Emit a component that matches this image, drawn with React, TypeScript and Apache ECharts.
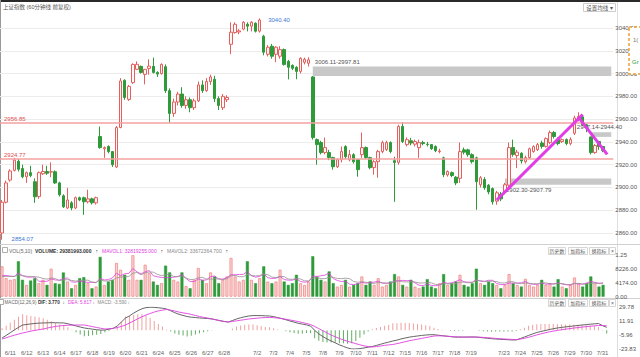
import { useEffect, useRef } from "react";
import * as echarts from "echarts";

const FONT = "'Liberation Sans', 'Noto Sans CJK SC', sans-serif";

const dayNames = ["6/11","6/12","6/13","6/14","6/17","6/18","6/19","6/20","6/21","6/24","6/25","6/26","6/27","6/28","7/1","7/2","7/3","7/4","7/5","7/8","7/9","7/10","7/11","7/12","7/15","7/16","7/17","7/18","7/19","7/22","7/23","7/24","7/25","7/26","7/29","7/30","7/31"];
const hiddenDayLabels = ["7/1", "7/22"];
const hourNames = ["10:30", "11:30", "14:00", "15:00"];

// [open, close, low, high]
const ohlc: number[][] = [
  [2860,2887,2854.07,2889],[2887,2904,2886,2906],[2906.5,2914.5,2905,2916],[2915,2924,2914,2926],
  [2923,2916,2914,2925],[2916.6,2909.4,2908,2920],[2909.4,2913,2904,2914],[2913,2910.5,2909,2919],
  [2905,2891.8,2886.5,2908],[2892,2913,2890,2914],[2912,2914,2911,2920],[2914,2912.5,2911,2919],
  [2913.5,2913.8,2909,2922],[2913.8,2904,2903,2915],[2904,2893.6,2892,2905],[2892.7,2883,2882,2894],
  [2882,2889,2881,2899.7],[2886.5,2882,2880,2888],[2882,2891,2881,2892],[2891,2889,2888,2892],
  [2891,2887.4,2876,2892],[2887.4,2890,2886,2898],[2890,2886.5,2885,2891],[2886.5,2891,2885,2892],
  [2944.7,2935,2934,2953.5],[2934,2935,2926,2936],[2935.9,2931.5,2930,2937],[2931.5,2920,2918,2932],
  [2918,2952.6,2917,2954],[2952.6,2993.5,2952,2996],[2994,2979,2977,2995],[2977.3,2988.7,2976,2990],
  [2992,3008,2991,3009],[3003.7,3008.1,3003,3010.7],[3006.3,3001,3000,3007],[2999.3,3003.7,2990.5,3004],
  [3004.5,3006.5,2999,3012.5],[3006.3,3001,3000,3014],[3001,2999.5,2997,3002],[3000,3008,2999,3009],
  [3006,2985,2983,3008],[2985,2965,2956.85,2987],[2965,2975,2962,2978],[2975,2982,2972,2984],
  [2982,2972,2970,2988],[2972,2977,2969,2980],[2977,2970,2966,2979],[2970,2976,2968,2978],
  [2976,2990,2975,2993],[2990,2985,2983,2994],[2985,2993,2984,2996],[2993,2997,2990,2999],
  [2995,2978,2975,2998],[2978,2972,2968,2980],[2970,2980,2968,2982],[2977,2979,2975,2981],
  [3025.7,3036.3,3017,3045],[3036,3043.3,3035,3045],[3036.5,3037.5,3034.5,3039],[3039,3045,3038,3046],
  [3043.3,3041.6,3037,3045],[3041.6,3045,3037,3046],[3044.2,3037.2,3036,3045],[3037.2,3047,3036,3048.4],
  [3032.8,3018.7,3016,3034],[3016.9,3023.1,3015,3025],[3024,3015.2,3013,3026],[3016.9,3023.1,3010,3024],
  [3015.2,3021,3013,3024],[3021,3008,3007,3022],[3010.7,3005.5,2994.9,3012],[3007.2,3004.6,3003,3008],
  [3005.5,3001.9,2995,3006.5],[3001.9,3013.4,3000,3014.3],[3009.9,3012.5,3008,3014],[3009,3012,3006.11,3014.3],
  [2997,2943.8,2942,2997.81],[2942,2937.6,2920,2943],[2939.4,2930.6,2929,2941],[2930.6,2935,2929,2943.8],
  [2930.6,2926.2,2924,2933],[2926.2,2918.2,2915.6,2927],[2918.2,2924.4,2917,2925],[2924.4,2931.5,2922,2935.9],
  [2935.9,2927,2925,2937],[2924.4,2928.8,2923,2933],[2928.8,2922.6,2921,2930],[2924.4,2915.6,2909.4,2925],
  [2928.8,2935,2926,2948.2],[2935,2926.2,2925,2936],[2926.2,2917.4,2916,2927],[2917.4,2922.6,2911.2,2924],
  [2922.6,2931.5,2908.5,2933],[2931.5,2939.4,2930,2941],[2933.2,2939.4,2932,2941],[2939.4,2931.5,2930,2940.5],
  [2923.5,2922,2887.4,2927],[2922,2953.5,2920,2955],[2953.5,2940.3,2939,2957],[2937.6,2942,2936,2944],
  [2941,2939,2937,2943.5],[2938,2940.3,2936,2942],[2935,2939.4,2926,2942],[2939.4,2938.5,2937,2941],
  [2938,2937.6,2936,2940],[2937.6,2934,2933,2938],[2935.9,2932.3,2931,2937],[2931.5,2932,2930,2934],
  [2926,2911.2,2909,2927],[2911,2914,2909.5,2915],[2913,2910.5,2909,2914],[2909,2904,2902,2910],
  [2908,2931.5,2904,2939.4],[2933,2931,2929,2935],[2933,2928.8,2927,2934],[2928.8,2922.6,2921,2930],
  [2926,2905,2880.4,2927],[2902.4,2908.5,2900,2910],[2907,2899.7,2898,2909],[2902,2896,2894,2903],
  [2899,2887.4,2885,2900],[2888,2895.3,2884.8,2897],[2894,2890,2888,2896],[2896,2902.4,2894,2904],
  [2902,2935,2900,2939.4],[2935,2929,2927,2942],[2928,2931,2917,2933],[2930,2923.3,2921,2931],
  [2922.6,2926.2,2921,2928],[2926.2,2934,2925,2935],[2931.5,2935.9,2930.5,2937],[2933.2,2937.6,2932,2939],
  [2939,2936,2934,2941],[2936,2942.9,2935,2944],[2939.4,2948.2,2938,2950],[2948.2,2944.7,2943,2949.5],
  [2942,2938.5,2937,2944],[2940.3,2942,2939,2943],[2942,2938.5,2937,2943],[2938.5,2942,2937,2944],
  [2947.6,2961,2946,2963],[2960,2962.3,2958,2966],[2962,2955,2954,2963],[2955,2952.3,2948.47,2956],
  [2944.4,2930.6,2929,2944.4],[2930.6,2936.8,2929.5,2938],[2940.3,2935.9,2933,2941],[2935.9,2932.5,2931,2936.5],
];

const volume: number[] = [
  9000,5500,5000,5200, 10500,5000,3500,4800, 5500,4000,5000,3500, 8300,4000,3800,7200,
  4500,2500,3500,5500, 5800,4000,2500,3000, 11800,3500,4500,5000, 10000,8000,6500,5000,
  12300,5000,5000,9500, 7000,4500,3500,4000, 9200,7200,5000,4500, 7200,3200,2500,5000,
  8500,5000,4000,7200, 6000,4000,5000,6000, 11500,6000,4500,5000, 10500,5000,4000,5500,
  9000,4500,4000,4500, 8000,4500,3500,4000, 6500,4000,3500,4500, 12000,6000,5000,4500,
  7500,4000,3000,3500, 5000,3000,3500,4000, 6000,3500,4500,3500, 5500,3000,3500,4500,
  6700,6000,3500,3000, 5000,3000,2500,3000, 5200,3000,2500,4000, 6700,3500,4000,4500,
  6500,3500,3000,4000, 8300,4000,3500,4500, 4000,3500,2500,3500, 6700,4000,3500,3000,
  5300,3500,3000,3500, 5000,3500,4000,3000, 5200,3000,2500,3500, 5700,4000,3000,4000,
  6000,4000,3000,3500,
];

const mavol1: number[] = [
  6200,6300,6100,6000, 7040,6240,5840,5800, 5860,4560,4560,4560, 5260,4960,4920,5360,
  5560,4400,4300,4640, 4360,4260,4260,4160, 5420,4960,5060,5560, 6960,6200,6800,6900,
  8360,7360,6760,7360, 7760,6200,5900,5700, 5640,5680,5780,5980, 6620,5420,4480,4480,
  5280,4840,5000,5940, 6140,5240,5240,5640, 6500,6500,6600,6600, 7500,6200,5800,6000,
  6800,5600,5400,5500, 6000,5100,4900,4900, 5300,4500,4300,4500, 6100,6000,6200,6400,
  7000,5400,4800,4500, 4600,3700,3600,3800, 4300,4000,4300,4300, 4600,4000,4000,4000,
  4640,4740,4840,4740, 4840,4100,3400,3300, 3740,3340,3240,3540, 4280,3940,4140,4540,
  5040,4400,4300,4300, 5060,4560,4560,4860, 4860,3900,3600,3600, 4040,4040,4040,4140,
  4500,3860,3660,3660, 4060,3700,3800,3800, 4140,3740,3540,3440, 3980,3740,3740,4040,
  4540,4200,4000,4100,
];

const mavol2: number[] = [
  6000,6000,6000,6000, 6500,6220,6070,5950, 5930,5800,5400,5200, 5530,5410,4740,4960,
  5060,4830,4630,4780, 4860,4910,4330,4230, 5030,4660,4660,4910, 5560,5810,5880,5980,
  6960,7160,6480,7080, 7330,7280,6630,6230, 6500,6720,5990,5940, 6160,5530,5080,5130,
  5630,5730,5210,5210, 5310,5260,5040,5320, 6220,6320,5920,5920, 6570,6350,6150,6300,
  6700,6550,5800,5650, 6000,5950,5250,5150, 5400,5250,4700,4700, 5500,5650,5350,5350,
  5750,5750,5400,5350, 5500,5350,4500,4300, 4400,4300,4000,3950, 4200,4150,4000,4150,
  4470,4670,4420,4370, 4420,4370,4070,4070, 4240,4090,3670,3470, 3790,3840,3740,3890,
  4290,4340,4120,4220, 4800,4800,4480,4580, 4580,4480,4080,4080, 4450,4450,3970,3870,
  4050,3950,3850,3850, 4100,4100,3830,3730, 3900,3900,3620,3620, 3890,3940,3740,3790,
  3990,4090,3870,3920,
];

const dif: number[] = [
  -9.8,-6.5,-3.0,0.5, 3.8,6.8,7.5,8.2, 8.8,9.2,9.4,9.6, 9.8,9.7,9.5,9.4,
  8.4,7.0,5.6,4.2, 3.0,2.2,1.5,0.8, 0.3,0.4,1.5,2.5, 5.5,10.5,15.7,18.5,
  22.0,25.0,27.5,29.0, 29.5,29.3,28.8,28.2, 27.2,25.0,22.5,20.5, 19.0,17.6,16.8,16.3,
  15.8,15.4,15.1,14.5, 13.5,12.3,11.3,10.6, 12.5,14.5,16.0,17.3, 18.3,18.8,18.8,18.8,
  18.5,18.3,17.5,16.3, 15.0,13.5,11.9,10.5, 9.0,8.0,7.0,5.5, 0.0,-4.5,-8.0,-11.0,
  -13.6,-16.0,-18.5,-20.5, -22.5,-23.8,-23.8,-23.3, -22.5,-21.5,-20.6,-19.3, -17.8,-16.3,-15.0,-13.6,
  -12.5,-11.0,-9.8,-8.7, -7.9,-7.2,-6.5,-6.0, -5.6,-5.6,-6.2,-6.8, -7.4,-8.0,-8.6,-8.7,
  -8.7,-8.6,-8.5,-8.5, -9.0,-9.6,-10.2,-10.7, -11.1,-11.4,-11.7,-12.0, -12.3,-12.3,-10.5,-8.5,
  -6.5,-4.6,-2.8,-1.5, -0.3,1.0,2.0,3.0, 3.7,4.4,5.0,5.6, 6.2,6.8,7.3,7.8,
  8.3,8.7,6.0,3.8,
];

const dea: number[] = [
  -11.1,-9.5,-7.8,-6.2, -4.8,-3.4,-2.2,-1.0, 0.0,0.9,1.7,2.9, 4.0,5.0,5.7,6.2,
  6.5,6.7,6.8,6.8, 6.8,5.8,4.7,3.6, 2.6,1.7,2.0,2.5, 3.5,5.0,6.8,9.3,
  12.0,14.8,17.3,19.6, 21.5,23.3,24.8,25.8, 26.6,25.8,24.6,23.3, 22.3,21.5,20.3,19.0,
  17.7,16.6,15.7,14.6, 13.4,12.2,11.3,10.6, 11.3,12.1,12.9,13.7, 14.5,15.0,15.5,16.0,
  16.3,16.4,16.2,15.7, 15.0,14.1,13.2,12.2, 11.2,10.0,8.7,7.4, 5.0,2.2,-0.6,-3.3,
  -6.0,-8.2,-10.3,-12.3, -14.0,-15.5,-17.0,-18.5, -19.8,-20.7,-21.3,-20.8, -20.0,-19.2,-18.6,-18.1,
  -17.0,-15.8,-14.5,-13.3, -12.3,-11.3,-10.3,-9.3, -8.3,-7.3,-7.0,-7.1, -7.4,-7.8,-8.2,-8.4,
  -8.5,-8.6,-8.6,-8.6, -8.7,-9.0,-9.4,-9.8, -10.3,-10.7,-11.0,-11.3, -11.6,-11.8,-11.2,-10.2,
  -8.9,-7.4,-5.9,-4.5, -3.2,-2.0,-1.0,-0.1, 0.7,1.5,2.2,2.9, 3.5,4.1,4.7,5.2,
  5.7,6.2,6.1,5.8,
];

const macdHist: number[] = [
  2.6,6.0,9.6,13.4, 17.2,20.4,19.4,18.4, 17.6,16.6,15.4,13.4, 11.6,9.4,7.6,6.4,
  3.8,0.6,-2.4,-5.2, -7.6,-7.2,-6.4,-5.6, -4.6,-2.6,-1.0,0, 4.0,11.0,17.8,18.4,
  20.0,20.4,20.4,18.8, 16.0,12.0,8.0,4.8, 1.2,-1.6,-4.2,-5.6, -6.6,-7.8,-7.0,-5.4,
  -3.8,-2.4,-1.2,-0.2, 0.2,0.2,0,0, 2.4,4.8,6.2,7.2, 7.6,7.6,6.6,5.6,
  4.4,3.8,2.6,1.2, 0,-1.2,-2.6,-3.4, -4.4,-4.0,-3.4,-3.8, -10.0,-13.4,-14.8,-15.4,
  -15.2,-15.6,-16.4,-16.4, -17.0,-16.6,-13.6,-9.6, -5.4,-1.6,1.4,3.0, 4.4,5.8,7.2,9.0,
  9.0,9.6,9.4,9.2, 8.8,8.2,7.6,6.6, 5.4,3.4,1.6,0.6, 0,-0.4,-0.8,-0.6,
  -0.4,0,0.2,0.2, -0.6,-1.2,-1.6,-1.8, -1.6,-1.4,-1.4,-1.4, -1.4,-1.0,1.4,3.4,
  5.8,7.0,7.8,8.0, 8.0,8.2,8.2,8.0, 7.8,7.6,7.4,7.2, 7.0,6.8,6.4,6.0,
  5.6,4.4,-0.2,-4.0,
];

const levelLines = [2956.85, 2924.77];
const gapBands = [
  { fromIndex: 76, top: 3006.11, bottom: 2997.81, text: "3006.11-2997.81", labelPos: [2, -8] },
  { fromIndex: 123, top: 2907.79, bottom: 2902.30, text: "2902.30-2907.79", labelPos: [1, 8] },
  { fromIndex: 144, top: 2948.47, bottom: 2944.40, text: "2947.14-2944.40", labelPos: [-14, -8] },
];
const extremes = [
  { index: 0, value: 2854.07, text: "2854.07", offset: [4, -1] },
  { index: 63, value: 3048.4, text: "3040.40", offset: [3, 2] },
];
const arrowLines = [
  { from: [121, 2889], to: [142, 2964] },
  { from: [141, 2961.5], to: [148.3, 2929] },
];
const volTickLabels = ["0.00", "4174.00", "8226.00", "1.25"];
const priceAxis = { min: 2840, max: 3060, interval: 20 };
const volAxis = { min: 0, max: 12300, interval: 4100 };
const macdAxis = { min: -23.83, max: 29.78, interval: 17.87 };

const volHeader = [
  { x: 9, text: "VOL(5,10)", color: "#666", bold: false },
  { x: 35, text: "VOLUME: 29381993.000", color: "#333", bold: true },
  { x: 95.5, text: "↑", color: "#333", bold: false },
  { x: 102, text: "MAVOL1: 32819255.000", color: "#e040e0", bold: false },
  { x: 160.5, text: "↑", color: "#333", bold: false },
  { x: 167, text: "MAVOL2: 33672364.700", color: "#888", bold: false },
  { x: 225.5, text: "↑", color: "#333", bold: false },
];
const macdHeader = [
  { x: 4.5, text: "MACD(12,26,9)", color: "#666", bold: false },
  { x: 38, text: "DIF: 3.770", color: "#333", bold: true },
  { x: 62.5, text: "↓", color: "#333", bold: false },
  { x: 68, text: "DEA: 5.817", color: "#e040e0", bold: false },
  { x: 92.5, text: "↓", color: "#e040e0", bold: false },
  { x: 97.5, text: "MACD: -3.590", color: "#888", bold: false },
  { x: 127.5, text: "↓", color: "#888", bold: false },
];
const panelButtons = [
  { x: 548.5, w: 17, text: "历史数" },
  { x: 568.5, w: 19, text: "加指标" },
  { x: 589.5, w: 19, text: "换指标" },
  { x: 609.5, w: 6, text: "×" },
];

const UP = "#e4605e";
const DOWN = "#2f9a3a";
const MAGENTA = "#e040e0";

export default function App() {
  const ref = useRef<HTMLDivElement>(null);

  useEffect(() => {
    if (!ref.current) return;
    const chart = echarts.init(ref.current, null, { renderer: "svg" });

    const categories: string[] = [];
    dayNames.forEach((d) => hourNames.forEach((h) => categories.push(`${d} ${h}`)));
    categories.push("", " ");

    const isUp = (i: number) => ohlc[i][1] >= ohlc[i][0];

    const volData = volume.map((v, i) => ({
      value: v,
      itemStyle: isUp(i)
        ? { color: "#fbd3d3", borderColor: "#ef8a8a", borderWidth: 0.8 }
        : { color: DOWN, borderColor: DOWN, borderWidth: 0.5 },
    }));
    const histData = macdHist.map((v) => ({
      value: v,
      itemStyle: { color: v >= 0 ? "#f0a0a0" : "#62ad62" },
    }));

    const xAxisBase = (gi: number) => ({
      type: "category",
      gridIndex: gi,
      data: categories,
      boundaryGap: true,
      axisLine: { show: false },
      axisTick: { show: false },
      splitLine: { show: false },
      axisLabel:
        gi === 2
          ? {
              show: true,
              fontSize: 6,
              color: "#666",
              margin: 1,
              interval: (index: number) =>
                index % 4 === 2 && index < 148 && !hiddenDayLabels.includes(dayNames[Math.floor(index / 4)]),
              formatter: (_v: string, index: number) => dayNames[Math.floor(index / 4)] ?? "",
            }
          : { show: false },
    });

    const nullData = categories.map(() => null);

    const headerTexts = (items: typeof volHeader, y: number, size: number) =>
      items.map((h) => ({
        type: "text",
        x: h.x,
        y,
        style: {
          text: h.text,
          fontSize: size,
          fontWeight: h.bold ? "bold" : "normal",
          fill: h.color,
          fontFamily: FONT,
          verticalAlign: "middle",
        },
      }));

    const buttons = (by: number) =>
      panelButtons.flatMap((b) => [
        { type: "rect", shape: { x: b.x, y: by - 0.5, width: b.w, height: 7 }, style: { fill: "#fff", stroke: "#ccc", lineWidth: 0.8 } },
        {
          type: "text",
          x: b.x + b.w / 2,
          y: by + 3,
          style: { text: b.text, fontSize: 5, fill: "#555", fontFamily: FONT, verticalAlign: "middle", align: "center" },
        },
      ]);

    const option: any = {
      animation: false,
      backgroundColor: "#ffffff",
      textStyle: { fontFamily: FONT },
      grid: [
        { left: 0, right: 23, top: 5.2, height: 250.6 },
        { left: 0, right: 23, top: 255.2, height: 41.5 },
        { left: 0, right: 23, top: 307, height: 42 },
      ],
      xAxis: [xAxisBase(0), xAxisBase(1), xAxisBase(2)],
      yAxis: [
        {
          type: "value",
          gridIndex: 0,
          position: "right",
          min: priceAxis.min,
          max: priceAxis.max,
          interval: priceAxis.interval,
          axisLine: { show: false },
          axisTick: { show: false },
          splitLine: { show: true, showMinLine: false, showMaxLine: false, lineStyle: { color: "#ececec", width: 1 } },
          axisLabel: {
            fontSize: 6,
            color: "#555",
            margin: 2,
            showMinLabel: false,
            showMaxLabel: false,
            formatter: (v: number) => v.toFixed(2),
          },
        },
        {
          type: "value",
          gridIndex: 1,
          position: "right",
          min: volAxis.min,
          max: volAxis.max,
          interval: volAxis.interval,
          axisLine: { show: false },
          axisTick: { show: false },
          splitLine: { show: false },
          axisLabel: {
            fontSize: 6,
            color: "#555",
            margin: 2,
            formatter: (v: number) => volTickLabels[Math.round(v / volAxis.interval)] ?? "",
          },
        },
        {
          type: "value",
          gridIndex: 2,
          position: "right",
          min: macdAxis.min,
          max: macdAxis.max,
          interval: macdAxis.interval,
          axisLine: { show: false },
          axisTick: { show: false },
          splitLine: { show: false },
          axisLabel: {
            fontSize: 6,
            color: "#555",
            margin: 2,
            formatter: (v: number) => v.toFixed(2),
          },
        },
      ],
      series: [
        {
          type: "candlestick",
          xAxisIndex: 0,
          yAxisIndex: 0,
          barWidth: 3,
          data: ohlc,
          itemStyle: { color: "#fff6f6", color0: DOWN, borderColor: UP, borderColor0: DOWN, borderWidth: 1 },
          markLine: {
            silent: true,
            symbol: ["none", "none"],
            lineStyle: { color: "#f4a0a0", width: 1.5, type: "solid" },
            label: { position: "insideStartTop", color: "#e05050", fontSize: 6, distance: [4, 1] },
            data: levelLines.map((v) => ({ yAxis: v, label: { formatter: v.toFixed(2) } })),
          },
          markArea: {
            silent: true,
            itemStyle: { color: "#c8c8c8" },
            data: gapBands.map((b) => [
              {
                xAxis: b.fromIndex,
                yAxis: b.top,
                label: { show: true, position: b.labelPos, formatter: b.text, fontSize: 6, color: "#555" },
              },
              { xAxis: 149, yAxis: b.bottom },
            ]),
          },
          markPoint: {
            silent: true,
            symbol: "circle",
            symbolSize: 1,
            itemStyle: { color: "rgba(0,0,0,0)" },
            data: extremes.map((e) => ({
              coord: [e.index, e.value],
              label: { show: true, position: "right", formatter: e.text, fontSize: 6, color: "#3b78d0", offset: e.offset },
            })),
          },
        },
        {
          type: "line",
          xAxisIndex: 0,
          yAxisIndex: 0,
          data: nullData,
          silent: true,
          symbol: "none",
          markLine: {
            silent: true,
            symbol: ["none", "arrow"],
            symbolSize: [0, 10],
            lineStyle: { color: "#e13de6", width: 3, type: "solid" },
            label: { show: false },
            data: arrowLines.map((a) => [{ coord: a.from }, { coord: a.to }]),
          },
        },
        { type: "bar", xAxisIndex: 1, yAxisIndex: 1, barWidth: 3, data: volData },
        { type: "line", xAxisIndex: 1, yAxisIndex: 1, data: mavol1, symbol: "none", lineStyle: { color: MAGENTA, width: 0.8 } },
        { type: "line", xAxisIndex: 1, yAxisIndex: 1, data: mavol2, symbol: "none", lineStyle: { color: "#9a9090", width: 0.8 } },
        { type: "bar", xAxisIndex: 2, yAxisIndex: 2, barWidth: 1, data: histData },
        { type: "line", xAxisIndex: 2, yAxisIndex: 2, data: dif, symbol: "none", lineStyle: { color: "#555", width: 0.9 } },
        { type: "line", xAxisIndex: 2, yAxisIndex: 2, data: dea, symbol: "none", lineStyle: { color: MAGENTA, width: 0.9 } },
      ],
      graphic: [
        { type: "rect", left: 0, top: 0, shape: { width: 640, height: 2 }, style: { fill: "#2a2a2a" } },
        { type: "line", shape: { x1: 0.5, y1: 0, x2: 0.5, y2: 357 }, style: { stroke: "#999", lineWidth: 1 } },
        { type: "line", shape: { x1: 617.5, y1: 2, x2: 617.5, y2: 357 }, style: { stroke: "#ddd", lineWidth: 1 } },
        { type: "line", shape: { x1: 0, y1: 244.5, x2: 640, y2: 244.5 }, style: { stroke: "#d0d0d0", lineWidth: 1 } },
        { type: "line", shape: { x1: 0, y1: 298.5, x2: 640, y2: 298.5 }, style: { stroke: "#d0d0d0", lineWidth: 1 } },
        {
          type: "text", x: 3, y: 7,
          style: { text: "上证指数 (60分钟线 前复权)", fontSize: 5.5, fill: "#555", fontFamily: FONT, verticalAlign: "middle" },
        },
        { type: "rect", shape: { x: 583.5, y: 3.5, width: 32, height: 8 }, style: { fill: "#fff", stroke: "#ccc", lineWidth: 1 } },
        {
          type: "text", x: 599.5, y: 7.5,
          style: { text: "设置均线 ▾", fontSize: 5.5, fill: "#555", fontFamily: FONT, verticalAlign: "middle", align: "center" },
        },
        { type: "rect", shape: { x: 2.5, y: 247.5, width: 5, height: 5 }, style: { fill: "#fff", stroke: "#999", lineWidth: 0.8 } },
        ...headerTexts(volHeader, 250.5, 5),
        { type: "rect", shape: { x: -1.5, y: 299.5, width: 5, height: 5 }, style: { fill: "#fff", stroke: "#999", lineWidth: 0.8 } },
        ...headerTexts(macdHeader, 302.5, 4.6),
        ...buttons(248),
        ...buttons(300),
        {
          type: "rect",
          shape: { x: 629, y: 27, width: 20, height: 47 },
          style: { fill: "#fff", stroke: "#f0a030", lineWidth: 1.5, lineDash: [3, 2] },
          z: 100,
        },
        { type: "text", x: 633, y: 40, z: 101, style: { text: "1(", fontSize: 6, fill: "#777", fontFamily: FONT, verticalAlign: "middle" } },
        { type: "text", x: 632, y: 62, z: 101, style: { text: "Gr", fontSize: 6, fill: DOWN, fontFamily: FONT, verticalAlign: "middle" } },
      ],
    };

    chart.setOption(option);
    return () => chart.dispose();
  }, []);

  return <div ref={ref} style={{ position: "fixed", left: 0, top: 0, width: 640, height: 357 }} />;
}
